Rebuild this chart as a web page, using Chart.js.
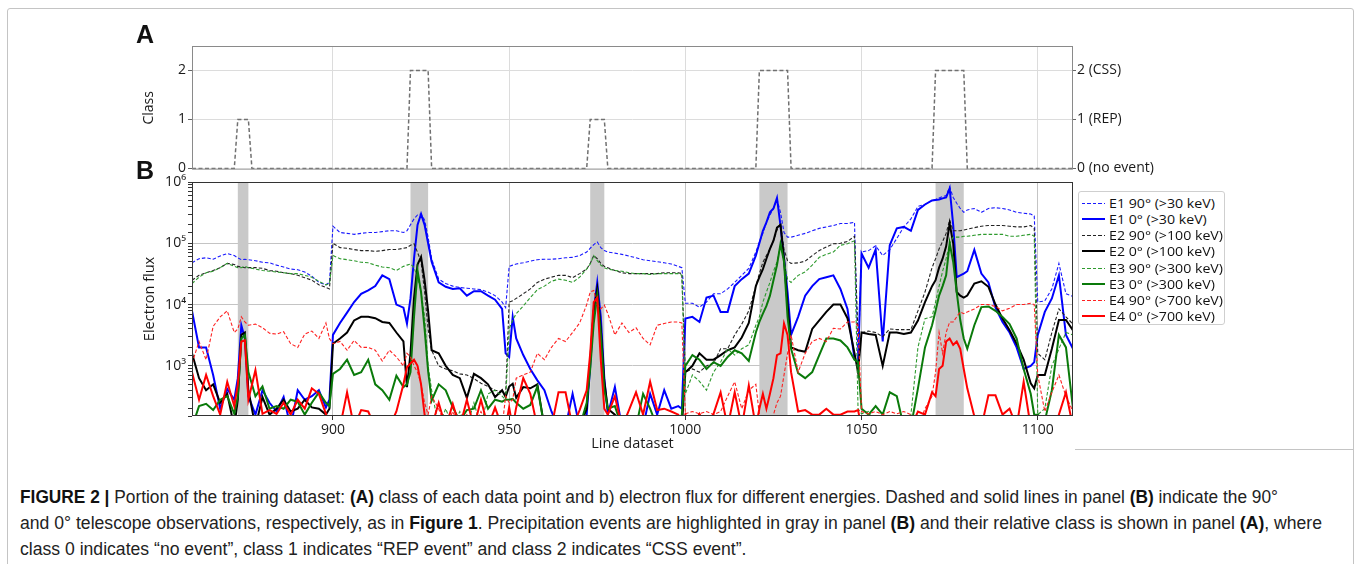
<!DOCTYPE html>
<html><head><meta charset="utf-8">
<script src="https://cdn.jsdelivr.net/npm/chart.js@4.4.1/dist/chart.umd.min.js"></script>
<style>
html,body{margin:0;padding:0;background:#fff;width:1355px;height:564px;overflow:hidden;position:relative;}
#frame{position:absolute;left:7px;top:8px;width:1347px;height:620px;border:1px solid #c4c4c4;border-radius:3px;box-sizing:border-box;}
#sep{position:absolute;left:1075px;top:449px;width:279px;height:0;border-top:1px solid #c4c4c4;}
canvas{position:absolute;left:0;}
.plab{position:absolute;font-family:'Liberation Sans',Arial,sans-serif;font-weight:bold;font-size:25px;line-height:25px;color:#111;}
#legend{position:absolute;left:1078px;top:191px;width:147px;height:134px;border:1px solid #cfcfcf;border-radius:3px;box-sizing:border-box;background:#fff;}
.lrow{position:absolute;left:0;height:16px;}
.lline{position:absolute;left:3px;width:23px;}
.ltxt{position:absolute;left:30px;top:0;white-space:nowrap;font-family:'Open Sans','DejaVu Sans',sans-serif;font-size:13px;line-height:16px;color:#111;transform-origin:0 50%;}
.cap{position:absolute;left:20px;white-space:nowrap;font-family:'Liberation Sans Narrow','Liberation Sans',Arial,sans-serif;font-size:17.5px;line-height:18px;color:#222;transform-origin:0 50%;}
.cap b{font-weight:bold;color:#111;}
</style></head>
<body>
<div id="frame"></div>
<div id="sep"></div>
<canvas id="cA" width="1355" height="180" style="top:0"></canvas>
<canvas id="cB" width="1355" height="287" style="top:170px"></canvas>
<div class="plab" style="left:136px;top:22px">A</div>
<div class="plab" style="left:136px;top:158px">B</div>
<div id="legend"></div>
<div class="cap" id="cap1" style="top:488px"><b>FIGURE 2 |</b> Portion of the training dataset: <b>(A)</b> class of each data point and b) electron flux for different energies. Dashed and solid lines in panel <b>(B)</b> indicate the 90°</div>
<div class="cap" id="cap2" style="top:514px">and 0° telescope observations, respectively, as in <b>Figure 1</b>. Precipitation events are highlighted in gray in panel <b>(B)</b> and their relative class is shown in panel <b>(A)</b>, where</div>
<div class="cap" id="cap3" style="top:540px">class 0 indicates “no event”, class 1 indicates “REP event” and class 2 indicates “CSS event”.</div>
<script>
// ---------------- DATA ----------------
const xTicks = [900, 950, 1000, 1050, 1100];
const classTicks = [0, 1, 2];
const classTickLabels = ['0 (no event)', '1 (REP)', '2 (CSS)'];
const classX = [860,872,873,876,877,921,922,927,928,972,973,977,978,1020,1021,1029,1030,1070,1071,1079,1080,1110];
const classY = [0,0,1,1,0,0,2,2,0,0,1,1,0,0,2,2,0,0,2,2,0,0];
const bandStart = [873, 922, 973, 1021, 1071];
const bandEnd   = [876, 927, 977, 1029, 1079];
const fluxTickValues = [1e3, 1e4, 1e5, 1e6];
const fluxTickLabels = ['10³', '10⁴', '10⁵', '10⁶'];
const seriesNames = ['E1 90° (>30 keV)','E1 0° (>30 keV)','E2 90° (>100 keV)','E2 0° (>100 keV)','E3 90° (>300 keV)','E3 0° (>300 keV)','E4 90° (>700 keV)','E4 0° (>700 keV)'];
const xTitle = 'Line dataset';
const yTitleA = 'Class';
const yTitleB = 'Electron flux';

const lineX = [
860,862,864,866,868,870,872,
873,874,875,876,
878,880,882,884,886,888,890,892,894,896,898,
899,
900,902,904,906,908,910,912,914,916,918,920,
921,922,923,924,925,926,927,928,
930,932,934,936,938,940,942,944,946,948,
949,950,951,
952,954,956,958,960,962,964,966,968,970,972,
973,974,975,976,977,978,
980,982,984,986,988,990,992,994,996,998,
999,
1000,1002,1004,1006,1008,1010,1012,1014,1016,1018,1020,
1021,1022,1023,1024,1025,1026,1027,1028,1029,1030,
1032,1034,1036,1038,1040,1042,1044,1046,1048,
1049,
1050,1052,1054,1056,1058,1060,1062,1064,1066,1068,1070,
1071,1072,1073,1074,1075,1076,1077,1078,1079,1080,
1082,1084,1086,1088,1090,1092,1094,1096,1098,
1099,
1100,1102,1104,1106,1108,1110];

const e1_90 = [
4.8e4,5.6e4,5.8e4,5.5e4,6.2e4,6.8e4,6.3e4,
5.8e4,5.4e4,5.5e4,5.4e4,
5.2e4,4.9e4,4.8e4,4.4e4,4.1e4,3.8e4,3.7e4,3.4e4,2.9e4,2.3e4,2.1e4,
2.3e4,
1.9e5,1.5e5,1.45e5,1.4e5,1.45e5,1.5e5,1.5e5,1.55e5,1.6e5,1.6e5,1.5e5,
1.6e5,2.0e5,2.5e5,2.9e5,3.0e5,2.4e5,1.26e5,5.6e4,
2.6e4,2.2e4,2.0e4,1.9e4,1.85e4,1.8e4,1.75e4,1.6e4,1.4e4,1.1e4,
8.9e3,4.2e4,4.4e4,
4.6e4,4.8e4,5.1e4,5.4e4,5.5e4,5.5e4,5.6e4,5.8e4,5.9e4,6.3e4,7.2e4,
8.3e4,9.5e4,1.05e5,8.5e4,7.6e4,7.2e4,
6.9e4,6.6e4,6.2e4,5.8e4,5.4e4,5.2e4,5.0e4,4.8e4,4.6e4,4.2e4,
4.0e4,
1.05e4,1.05e4,9.1e3,1.1e4,1.5e4,1.5e4,1.8e4,2.3e4,3.0e4,3.9e4,7.2e4,
1.05e5,1.45e5,2.2e5,2.9e5,3.7e5,5.2e5,3.2e5,1.5e5,1.26e5,1.26e5,
1.35e5,1.45e5,1.6e5,1.75e5,1.85e5,1.95e5,2.1e5,2.1e5,2.2e5,
1.1e3,
7.2e4,7.6e4,9.1e4,6.3e4,7.9e4,1.2e5,1.85e5,2.5e5,4.0e5,4.3e5,5.0e5,
5.2e5,5.5e5,5.8e5,6.0e5,8.3e5,5.6e5,4.5e5,3.7e5,3.2e5,3.5e5,
3.7e5,3.2e5,3.7e5,3.8e5,3.7e5,3.5e5,3.2e5,3.1e5,3.0e5,
2.8e5,
1.1e4,1.15e4,1.8e4,4.7e4,1.5e4,1.35e4];

const e1_0 = [
7.9e3,2.0e3,2.0e3,710,200,420,280,
630,4.6e3,2.8e3,320,
160,400,250,180,310,100,400,280,320,400,210,
280,
3.2e3,5.0e3,7.4e3,1.1e4,1.5e4,1.7e4,2.0e4,3.0e4,2.6e4,1.0e4,8.9e3,
4.9e3,1.26e4,5.6e4,2.0e5,3.0e5,2.0e5,1.0e5,5.0e4,
2.3e4,1.95e4,1.8e4,1.85e4,1.4e4,1.65e4,1.65e4,1.4e4,1.2e4,8.5e3,
1.6e3,1.4e3,6.3e3,
2.8e3,1.5e3,890,580,400,180,100,100,350,100,160,
1.0e3,7.9e3,2.3e4,6.3e3,630,160,
450,100,100,100,100,350,160,400,200,220,
200,
5.9e3,6.3e3,5.2e3,1.3e4,1.4e4,7.6e3,7.6e3,2.0e4,2.6e4,3.2e4,6.3e4,
1.0e5,1.6e5,2.2e5,3.2e5,3.7e5,5.5e5,1.95e5,5.6e4,1.6e4,3.2e3,
6.3e3,1.4e4,2.0e4,2.6e4,2.8e4,3.0e4,1.8e4,8.5e3,1.3e3,
1.1e3,
6.8e4,4.0e4,7.9e4,2.5e3,9.3e4,1.75e5,1.85e5,1.6e5,3.5e5,4.3e5,5.0e5,
5.1e5,5.2e5,5.4e5,5.6e5,7.9e5,2.0e5,2.8e4,3.0e4,3.2e4,3.5e4,
7.8e4,3.2e4,2.3e4,8.9e3,5.2e3,3.5e3,2.0e3,890,1.0e3,
1.15e3,
3.2e3,7.6e3,1.26e4,3.0e4,3.2e3,1.9e3];

const e2_90 = [
2.5e4,3.0e4,3.3e4,3.6e4,4.0e4,4.7e4,4.5e4,
4.2e4,4.1e4,4.0e4,4.0e4,
4.0e4,3.9e4,3.6e4,3.5e4,3.3e4,3.2e4,3.0e4,2.75e4,2.5e4,2.1e4,1.9e4,
1.8e4,
1.0e5,8.5e4,8.3e4,7.9e4,7.6e4,7.6e4,7.4e4,7.6e4,7.9e4,7.9e4,8.3e4,
8.5e4,9.3e4,9.8e4,7.1e4,5.0e4,1.6e4,4.0e3,1.8e3,
1.0e3,890,830,740,710,620,520,460,400,380,
350,1.1e4,1.15e4,
1.26e4,1.5e4,1.8e4,2.3e4,2.6e4,2.8e4,3.0e4,3.0e4,2.75e4,3.2e4,3.8e4,
4.7e4,6.3e4,5.6e4,4.7e4,4.2e4,4.0e4,
3.6e4,3.3e4,3.2e4,3.2e4,3.2e4,3.2e4,3.2e4,3.3e4,3.3e4,3.3e4,
3.2e4,
790,890,790,1.0e3,1.1e3,1.9e3,1.9e3,3.2e3,4.8e3,7.9e3,2.0e4,
3.2e4,4.9e4,6.3e4,8.1e4,1.1e5,1.65e5,2.1e5,7.9e4,5.2e4,4.7e4,
4.8e4,5.1e4,6.3e4,7.6e4,8.7e4,9.8e4,1.0e5,1.07e5,1.3e5,
3.2e3,
3.5e3,3.7e3,3.5e3,3.0e3,4.0e3,3.9e3,3.9e3,3.9e3,7.9e3,1.6e4,4.0e4,
5.6e4,8.1e4,1.07e5,1.45e5,2.4e5,1.6e5,1.6e5,1.6e5,1.65e5,1.7e5,
1.8e5,1.9e5,1.95e5,1.95e5,1.95e5,1.9e5,1.85e5,1.85e5,1.95e5,
1.75e5,
1.6e3,1.26e3,3.5e3,8.5e3,6.3e3,4.8e3];

const e2_0 = [
1.6e3,630,400,500,250,350,100,
280,3.2e3,3.5e3,400,
100,310,160,200,280,180,200,280,210,200,160,
200,
2.3e3,2.8e3,3.5e3,5.5e3,6.3e3,6.3e3,6.0e3,5.2e3,5.0e3,3.5e3,2.5e3,
450,1.6e3,1.26e4,4.5e4,6.0e4,2.5e4,7.9e3,1.8e3,
1.6e3,1.0e3,710,630,300,740,630,500,310,400,
310,460,510,
300,450,430,500,100,100,100,100,100,100,200,
1.26e3,7.9e3,1.8e4,4.0e3,560,200,
160,100,100,100,100,100,100,100,100,100,
100,
790,1.0e3,1.6e3,1.26e3,1.26e3,1.5e3,1.8e3,2.0e3,2.9e3,5.0e3,2.0e4,
2.8e4,3.8e4,5.6e4,8.1e4,1.1e5,1.8e5,2.0e5,5.6e4,1.0e4,2.0e3,
1.8e3,1.7e3,4.0e3,5.5e3,7.6e3,1.0e4,1.0e4,6.0e3,1.6e3,
790,
3.5e3,3.3e3,3.2e3,1.0e3,3.5e3,3.5e3,3.3e3,3.5e3,5.5e3,1.1e4,2.0e4,
2.5e4,4.0e4,5.6e4,8.9e4,2.1e5,1.0e5,1.6e4,1.4e4,1.3e4,1.4e4,
2.2e4,2.4e4,1.95e4,1.0e4,5.9e3,3.8e3,2.3e3,1.26e3,520,
430,
710,710,1.9e3,5.6e3,5.6e3,3.8e3];

const e3_90 = [
2.2e4,2.8e4,3.3e4,3.5e4,4.0e4,4.7e4,4.2e4,
4.0e4,4.0e4,4.2e4,4.0e4,
3.8e4,3.6e4,3.5e4,3.4e4,3.3e4,3.2e4,3.2e4,3.0e4,2.8e4,2.4e4,2.1e4,
2.2e4,
6.3e4,5.6e4,5.4e4,5.2e4,4.9e4,4.8e4,4.4e4,4.1e4,4.0e4,3.6e4,4.2e4,
4.4e4,4.6e4,4.0e4,2.8e4,1.6e4,6.3e3,1.0e3,400,
100,200,100,180,100,250,100,350,400,320,
280,4.0e3,5.6e3,
7.1e3,9.5e3,1.3e4,1.75e4,2.0e4,2.4e4,2.6e4,2.5e4,2.3e4,2.8e4,3.8e4,
4.6e4,6.3e4,5.2e4,4.4e4,4.0e4,3.8e4,
3.6e4,3.5e4,3.3e4,3.2e4,3.2e4,3.1e4,3.2e4,3.2e4,3.2e4,3.2e4,
3.0e4,
350,710,560,400,790,1.15e3,1.9e3,1.5e3,1.9e3,2.2e3,4.6e3,
6.3e3,1.1e4,1.6e4,2.3e4,3.5e4,4.9e4,9.8e4,5.0e4,2.6e4,2.3e4,
3.0e4,3.4e4,4.4e4,5.9e4,6.6e4,7.2e4,9.3e4,9.8e4,1.1e5,
200,
165,180,100,100,100,100,100,160,2.0e3,5.9e3,6.3e3,
1.1e4,2.0e4,3.5e4,5.6e4,9.8e4,1.26e5,1.26e5,1.26e5,1.3e5,1.3e5,
1.35e5,1.4e5,1.4e5,1.4e5,1.4e5,1.3e5,1.3e5,1.35e5,1.4e5,
1.3e5,
160,200,1.0e3,1.9e3,3.5e3,3.2e3];

const e3_0 = [
100,220,240,190,280,320,165,
320,2.8e3,3.2e3,790,
320,460,200,220,200,280,260,160,250,370,250,
220,
740,890,1.26e3,710,790,1.26e3,500,400,280,690,450,
500,790,6.3e3,3.6e4,1.6e4,4.0e3,830,270,
500,400,210,126,190,200,400,200,280,260,
280,280,290,
250,200,230,460,100,100,100,100,100,100,250,
890,5.0e3,1.4e4,3.2e3,400,200,
220,100,100,100,350,200,100,100,100,100,
160,
1.0e3,1.5e3,1.26e3,890,1.15e3,1.0e3,1.4e3,1.8e3,1.6e3,1.2e3,3.5e3,
5.2e3,7.1e3,9.5e3,1.4e4,2.5e4,4.4e4,9.8e4,5.0e4,6.3e3,1.9e3,
760,630,790,1.5e3,2.8e3,2.8e3,2.6e3,2.0e3,1.26e3,
1.15e3,
200,160,220,160,370,320,100,100,430,2.0e3,4.6e3,
7.9e3,1.4e4,2.0e4,3.0e4,1.0e5,5.0e4,1.6e4,5.6e3,2.8e3,1.9e3,
4.6e3,9.1e3,9.3e3,7.9e3,6.3e3,4.8e3,2.8e3,890,350,
160,
160,126,400,3.2e3,2.0e3,200];

const e4_90 = [
1.1e3,2.5e3,1.26e3,4.4e3,6.3e3,7.9e3,3.5e3,
4.0e3,6.3e3,5.2e3,4.6e3,
4.8e3,4.2e3,3.4e3,3.3e3,3.6e3,2.3e3,2.0e3,3.3e3,3.7e3,2.8e3,5.0e3,
2.8e3,
2.3e3,2.5e3,1.8e3,2.6e3,2.0e3,2.0e3,1.8e3,1.2e3,1.8e3,1.4e3,1.0e3,
1.6e3,1.4e3,1.0e3,790,500,250,160,320,
200,100,180,100,160,100,180,100,200,100,
320,250,280,
630,710,790,1.6e3,1.26e3,2.0e3,2.8e3,2.5e3,3.5e3,5.0e3,1.0e4,
1.6e4,1.7e4,1.0e4,8.5e3,9.8e3,7.1e3,
3.2e3,5.0e3,3.5e3,4.2e3,2.8e3,2.2e3,4.6e3,4.9e3,5.2e3,5.2e3,
5.0e3,
165,180,165,180,160,180,320,550,200,400,500,
160,100,100,100,160,250,320,710,1.6e3,3.2e3,
790,1.6e3,2.5e3,2.8e3,2.5e3,4.1e3,4.0e3,5.2e3,5.2e3,
4.5e3,
180,165,180,160,180,165,180,160,100,200,320,
790,3.5e3,1.6e3,3.5e3,5.2e3,5.2e3,6.3e3,7.6e3,7.1e3,7.6e3,
8.5e3,1.0e4,1.0e4,9.3e3,7.9e3,8.7e3,1.0e4,1.0e4,1.05e4,
1.0e4,
710,180,370,710,320,180];

const e4_0 = [
790,280,710,320,160,550,220,
500,2.5e3,2.6e3,280,
850,165,190,165,250,160,280,200,430,350,165,
100,
100,100,370,100,190,180,100,100,100,180,500,
950,1.1e3,1.26e3,1.0e3,500,160,100,100,
250,100,240,100,280,100,280,100,210,100,
100,210,100,
210,630,350,100,100,100,370,370,100,190,400,
1.6e3,1.1e4,1.3e4,1.26e3,200,160,
320,100,190,370,160,550,190,200,180,160,
100,
160,100,165,100,165,370,100,370,100,480,100,
200,350,200,350,630,1.5e3,1.6e3,4.9e3,3.2e3,790,
180,190,160,160,200,160,160,180,180,
190,
100,100,100,100,100,100,100,100,180,160,370,
320,890,1.0e3,2.5e3,2.8e3,2.2e3,2.5e3,1.9e3,890,430,
150,100,330,330,160,200,100,550,100,
100,
100,100,100,160,370,100];

const seriesValues = [e1_90, e1_0, e2_90, e2_0, e3_90, e3_0, e4_90, e4_0];
const seriesColors = ['#1a1aff','#0000ff','#222222','#000000','#2e9a2e','#0a7a0a','#ff2020','#ff0000'];
const seriesDashed = [true,false,true,false,true,false,true,false];

// ---------------- CHARTS ----------------
const AXFONT = "'Open Sans','DejaVu Sans',sans-serif";
Chart.defaults.font.family = AXFONT;
Chart.defaults.color = '#1a1a1a';

function framePlugin(color){
  return {id:'frame', afterDatasetsDraw(chart){
    const {ctx, chartArea:{left,top,right,bottom}} = chart;
    ctx.save(); ctx.strokeStyle = color; ctx.lineWidth = 1;
    ctx.strokeRect(left+0.5, top+0.5, right-left-1, bottom-top-1);
    ctx.restore();
  }};
}
const bandsPlugin = {id:'bands', beforeDatasetsDraw(chart){
  const {ctx, chartArea:{top,bottom}, scales:{x}} = chart;
  ctx.save(); ctx.fillStyle = '#c9c9c9';
  bandStart.forEach((s,i)=>{
    const a = x.getPixelForValue(s), b = x.getPixelForValue(bandEnd[i]);
    ctx.fillRect(a, top, b-a, bottom-top);
  });
  ctx.restore();
}};

new Chart(document.getElementById('cA'), {
  type:'line',
  data:{datasets:[{
    data: classX.map((x,i)=>({x, y: classY[i]})),
    borderColor:'#707070', borderWidth:1.5, borderDash:[4,2.5],
    pointRadius:0, tension:0
  }]},
  options:{
    responsive:false, animation:false, devicePixelRatio:1, events:[],
    layout:{padding:{top:46, bottom:9, left:138, right:0}},
    plugins:{legend:{display:false}, tooltip:{enabled:false}},
    scales:{
      x:{type:'linear', min:860, max:1110,
         afterBuildTicks:s=>{s.ticks = xTicks.map(v=>({value:v}));},
         ticks:{display:false}, grid:{color:'#dcdcdc', drawTicks:false}, border:{display:false},
         afterFit:s=>{s.height = 0;}},
      y:{type:'linear', position:'left', min:-0.025, max:2.5,
         afterBuildTicks:s=>{s.ticks = classTicks.map(v=>({value:v}));},
         ticks:{font:{size:14}, padding:2, color:'#1a1a1a', callback:v=>String(v)},
         grid:{color:c=> (c.tick && c.tick.value===0) ? 'rgba(0,0,0,0)' : '#dcdcdc', tickLength:4, tickColor:'#666'},
         border:{display:false},
         title:{display:true, text:yTitleA, font:{size:14}, padding:{top:3,bottom:0}, color:'#1a1a1a'},
         afterFit:s=>{s.width = 54;}},
      y2:{type:'linear', position:'right', min:-0.025, max:2.5,
         afterBuildTicks:s=>{s.ticks = classTicks.map(v=>({value:v}));},
         ticks:{font:{size:14}, padding:1, color:'#1a1a1a', callback:v=>classTickLabels[classTicks.indexOf(v)]},
         grid:{drawOnChartArea:false, tickLength:3, tickColor:'#666'},
         border:{display:false},
         afterFit:s=>{s.width = 282;}}
    }
  },
  plugins:[framePlugin('#8a8a8a')]
});

const isMajor = v => Math.abs(Math.log10(v) - Math.round(Math.log10(v))) < 1e-9;
new Chart(document.getElementById('cB'), {
  type:'line',
  data:{datasets: seriesValues.map((vals,i)=>({
    label: seriesNames[i],
    data: lineX.map((x,j)=>({x, y: vals[j]})),
    borderColor: seriesColors[i],
    borderWidth: seriesDashed[i] ? 1.1 : 2,
    borderDash: seriesDashed[i] ? [3.5,2] : [],
    pointRadius:0, tension:0, clip:0, order: 8-i
  }))},
  options:{
    responsive:false, animation:false, devicePixelRatio:1, events:[],
    layout:{padding:{top:12, bottom:0, left:138, right:282}},
    plugins:{legend:{display:false}, tooltip:{enabled:false}},
    scales:{
      x:{type:'linear', min:860, max:1110,
         afterBuildTicks:s=>{s.ticks = xTicks.map(v=>({value:v}));},
         ticks:{font:{size:14}, padding:2, color:'#1a1a1a', maxRotation:0, callback:v=>String(v)},
         grid:{color:'#c4c4c4', tickLength:4, tickColor:'#333'},
         border:{display:false},
         title:{display:true, text:xTitle, font:{size:14.5}, padding:{top:0,bottom:4}, color:'#1a1a1a'},
         afterFit:s=>{s.height = 41;}},
      y:{type:'logarithmic', min:152, max:1e6,
         ticks:{font:{size:14}, padding:2, color:'#1a1a1a', autoSkip:false,
           callback:v=>{ const k = fluxTickValues.findIndex(t=>Math.abs(t-v)<1e-6*t); return k>=0 ? fluxTickLabels[k] : ''; }},
         grid:{color:c=> (c.tick && isMajor(c.tick.value) && c.tick.value>152 && c.tick.value<1e6) ? '#c4c4c4' : 'rgba(0,0,0,0)',
               tickLength:4, tickColor:'#333'},
         border:{display:false},
         title:{display:true, text:yTitleB, font:{size:14.5}, padding:{top:3,bottom:0}, color:'#1a1a1a'},
         afterFit:s=>{s.width = 54;}}
    }
  },
  plugins:[bandsPlugin, framePlugin('#333')]
});

// ---------------- LEGEND ----------------
const leg = document.getElementById('legend');
seriesNames.forEach((name,i)=>{
  const row = document.createElement('div');
  row.className = 'lrow';
  row.style.top = (2.7 + i*16.2) + 'px';
  row.style.width = '145px';
  const ln = document.createElement('div');
  ln.className = 'lline';
  if (seriesDashed[i]) {
    ln.style.top = '8px'; ln.style.height = '1px';
    ln.style.background = 'repeating-linear-gradient(to right,' + seriesColors[i] + ' 0 3.5px, transparent 3.5px 5.5px)';
  } else {
    ln.style.top = '7px'; ln.style.height = '2px';
    ln.style.background = seriesColors[i];
  }
  const tx = document.createElement('div');
  tx.className = 'ltxt';
  tx.textContent = name;
  row.appendChild(ln); row.appendChild(tx); leg.appendChild(row);
});
const ref = leg.querySelectorAll('.ltxt')[4];
const sLeg = 114 / ref.getBoundingClientRect().width;
leg.querySelectorAll('.ltxt').forEach(t=>{ t.style.transform = 'scaleX(' + sLeg + ')'; });

// ---------------- CAPTION FIT ----------------
const c1 = document.getElementById('cap1'), c2 = document.getElementById('cap2'), c3 = document.getElementById('cap3');
const s1 = 1258 / c1.getBoundingClientRect().width;
const s2 = 1302 / c2.getBoundingClientRect().width;
c1.style.transform = 'scaleX(' + s1 + ')';
c2.style.transform = 'scaleX(' + s2 + ')';
c3.style.transform = 'scaleX(' + s2 + ')';
</script>
</body></html>
